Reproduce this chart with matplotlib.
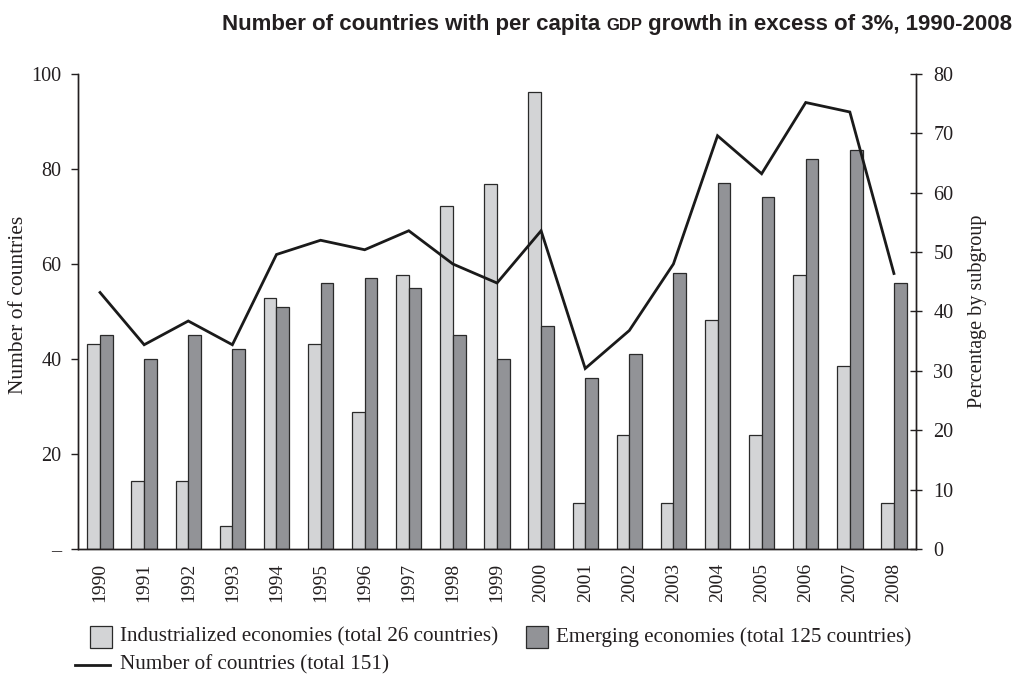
import matplotlib
matplotlib.use("Agg")
import matplotlib.pyplot as plt
from matplotlib.patches import Rectangle
from matplotlib.lines import Line2D
import numpy as np

years = ["1990", "1991", "1992", "1993", "1994", "1995", "1996", "1997", "1998", "1999",
         "2000", "2001", "2002", "2003", "2004", "2005", "2006", "2007", "2008"]
industrialized_pct = [34.6, 11.5, 11.5, 3.8, 42.3, 34.6, 23.1, 46.2, 57.7, 61.5,
                      76.9, 7.7, 19.2, 7.7, 38.5, 19.2, 46.2, 30.8, 7.7]
emerging_pct = [36.0, 32.0, 36.0, 33.6, 40.8, 44.8, 45.6, 44.0, 36.0, 32.0,
                37.6, 28.8, 32.8, 46.4, 61.6, 59.2, 65.6, 67.2, 44.8]
num_countries = [54, 43, 48, 43, 62, 65, 63, 67, 60, 56,
                 67, 38, 46, 60, 87, 79, 94, 92, 58]
left_ticks = [0, 20, 40, 60, 80, 100]
left_ticklabels = ["–", "20", "40", "60", "80", "100"]
right_ticks = [0, 10, 20, 30, 40, 50, 60, 70, 80]

title_parts = ["Number of countries with per capita ", "GDP", " growth in excess of 3%, 1990-2008"]
legend_labels = ["Industrialized economies (total 26 countries)",
                 "Emerging economies (total 125 countries)",
                 "Number of countries (total 151)"]

TXT = "#231f20"
C_IND = "#d3d4d6"
C_EMG = "#929397"
EDGE = "#2a2a2a"
SERIF = "Liberation Serif"

W, H = 1017, 674
fig = plt.figure(figsize=(W / 100, H / 100), dpi=100)
ax = fig.add_axes([78 / W, 1 - 549 / H, (916 - 78) / W, (549 - 74) / H])
ax2 = ax.twinx()

x = np.arange(len(years))
bw = 0.288
ax2.bar(x - bw / 2, industrialized_pct, width=bw, color=C_IND, edgecolor=EDGE, linewidth=0.9, zorder=2)
ax2.bar(x + bw / 2, emerging_pct, width=bw, color=C_EMG, edgecolor=EDGE, linewidth=0.9, zorder=2)
ax.plot(x, num_countries, color="#1a1a1a", linewidth=2.0, solid_joinstyle="miter", zorder=3)

ax.set_zorder(ax2.get_zorder() + 1)
ax.patch.set_visible(False)

ax.set_xlim(-0.5, len(years) - 0.5)
ax.set_ylim(0, 100)
ax2.set_ylim(0, 80)

for a in (ax, ax2):
    a.spines["top"].set_visible(False)
    for s in a.spines.values():
        s.set_linewidth(1.0)
        s.set_color(TXT)

ax.set_yticks(left_ticks)
ax.set_yticklabels(left_ticklabels, fontfamily=SERIF, fontsize=14.5, color=TXT)
ax.tick_params(axis="y", direction="out", length=5, width=1, pad=7, colors=TXT)

ax2.set_yticks(right_ticks)
ax2.set_yticklabels([str(t) for t in right_ticks], fontfamily=SERIF, fontsize=14.5, color=TXT)
ax2.tick_params(axis="y", direction="inout", length=9, width=1, pad=8, colors=TXT)

ax.set_xticks(np.arange(len(years) + 1) - 0.5)
ax.set_xticklabels([])
ax.tick_params(axis="x", which="major", direction="out", length=5, width=1, colors=TXT)
ax.set_xticks(x, minor=True)
ax.set_xticklabels(years, minor=True, rotation=90, fontfamily=SERIF, fontsize=14, color=TXT)
ax.tick_params(axis="x", which="minor", length=0, pad=10)
ax2.set_xticks([])

ax.set_ylabel("Number of countries", fontfamily=SERIF, fontsize=15.5, color=TXT)
ax.yaxis.set_label_coords(-0.0597, 0.514)
ax2.set_ylabel("Percentage by subgroup", fontfamily=SERIF, fontsize=14.5, color=TXT)
ax2.yaxis.set_label_coords(1.062, 0.5)

# Title with small-caps "GDP"
r = fig.canvas.get_renderer()
ty = 1 - 30 / H
tfont = dict(fontfamily="Liberation Sans", fontweight="bold", color=TXT)
t3 = fig.text(1012 / W, ty, title_parts[2], ha="right", va="baseline", fontsize=16, **tfont)
bb = t3.get_window_extent(r)
t2 = fig.text(bb.x0 / W, ty, title_parts[1], ha="right", va="baseline", fontsize=12, **tfont)
bb = t2.get_window_extent(r)
t1 = fig.text(bb.x0 / W, ty, title_parts[0], ha="right", va="baseline", fontsize=16, **tfont)

# Legend
def ypx(v):
    return 1 - v / H

sq = 22
fs_leg = 15.2
fig.patches.append(Rectangle((90 / W, ypx(637 + sq / 2)), sq / W, sq / H, transform=fig.transFigure,
                             facecolor=C_IND, edgecolor=EDGE, linewidth=0.9))
fig.text(120 / W, ypx(637), legend_labels[0], ha="left", va="center", fontfamily=SERIF, fontsize=fs_leg, color=TXT)
fig.patches.append(Rectangle((526 / W, ypx(637 + sq / 2)), sq / W, sq / H, transform=fig.transFigure,
                             facecolor=C_EMG, edgecolor=EDGE, linewidth=0.9))
fig.text(556 / W, ypx(637), legend_labels[1], ha="left", va="center", fontfamily=SERIF, fontsize=fs_leg, color=TXT)
fig.lines.append(Line2D([75 / W, 110 / W], [ypx(665), ypx(665)], transform=fig.transFigure,
                        color="#1a1a1a", linewidth=2.0))
fig.text(120 / W, ypx(665), legend_labels[2], ha="left", va="center", fontfamily=SERIF, fontsize=fs_leg, color=TXT)

fig.savefig("out.png", dpi=100)
